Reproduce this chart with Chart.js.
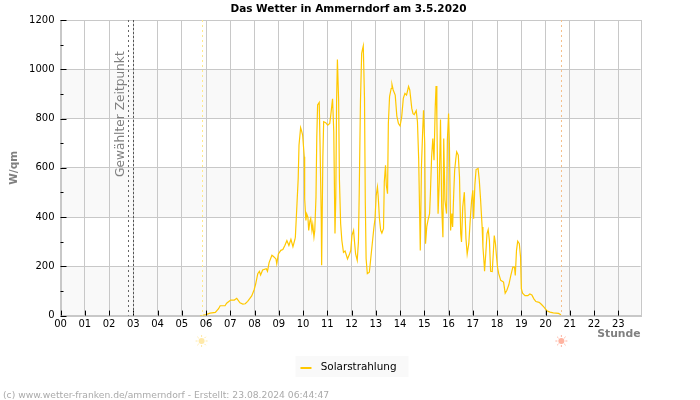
<!DOCTYPE html>
<html lang="de">
<head>
<meta charset="utf-8">
<title>Das Wetter in Ammerndorf</title>
<script src="https://cdn.jsdelivr.net/npm/chart.js@4/dist/chart.umd.min.js"></script>
<style>
	body { margin: 0; background: #fff; }
	#wrap { position: relative; width: 700px; height: 400px; overflow: hidden; }
	#footer { position: absolute; left: 3px; top: 389px; font: 9.2px "DejaVu Sans"; color: #aaa; white-space: nowrap; }
</style>
</head>
<body>
<div id="wrap">
	<canvas id="myChart" width="700" height="400"></canvas>
	<div id="footer">(c) www.wetter-franken.de/ammerndorf - Erstellt: 23.08.2024 06:44:47</div>
</div>
<script>
const chartTitle = "Das Wetter in Ammerndorf am 3.5.2020";
const seriesName = "Solarstrahlung";
const selectedLabel = "Gewählter Zeitpunkt";

// Minuten seit Mitternacht
const solarMinutes = [
	345, 352, 360, 370, 383, 391, 395, 407, 411, 421, 430, 436, 444, 451, 457, 463, 473, 479, 483, 488,
	492, 495, 500, 509, 512, 516, 523, 527, 533, 535, 539, 545, 550, 555, 560, 565, 570, 575, 580,
	581, 585, 588, 590, 594, 596, 599, 603, 604, 607, 609, 612, 614, 617, 619, 622, 624, 627, 629, 632,
	634, 636, 640, 642, 645, 646, 649, 651, 656, 661, 666, 669, 673, 676, 679, 681, 683, 685, 688, 690,
	693, 696, 700, 704, 710, 715,
	718, 721, 725, 727, 730, 734, 737, 739, 742, 745, 747, 749, 752, 754, 756, 759, 764, 767, 772, 775,
	778, 781, 784, 786, 789, 792, 795, 799, 801, 804, 806, 809, 811, 814, 818, 820, 823, 828, 832, 836,
	840, 844, 848, 852, 856, 861, 864,
	869, 872, 875, 880, 883, 886, 890, 893, 896, 898, 901, 903, 906, 909, 913, 915, 918, 921, 924, 927,
	929, 931, 934, 937, 940, 943, 946, 948, 951, 955, 957, 960, 962, 965, 968, 970, 973, 975, 978, 980,
	984, 987, 990, 992, 995, 999, 1003, 1006, 1010, 1012,
	1014, 1017, 1020, 1022, 1025, 1028, 1033, 1036, 1039, 1043, 1045, 1048, 1049, 1052, 1055, 1058, 1061,
	1064, 1068, 1071, 1073, 1076, 1078, 1081, 1084, 1089, 1096, 1100, 1104, 1109, 1114, 1119, 1123, 1125,
	1128, 1131, 1135, 1138, 1140, 1143, 1149, 1156, 1161, 1166, 1171, 1176, 1184, 1190, 1196, 1203, 1211,
	1219, 1232, 1238
];
// W/qm
const solarValues = [
	0, 1, 4, 10, 13, 28, 40, 40, 50, 63, 63, 70, 52, 47, 48, 58, 80, 105, 130, 170,
	180, 165, 185, 190, 180, 215, 245, 240, 230, 210, 250, 265, 268, 285, 305, 285, 310, 280, 310,
	319, 454, 556, 692, 763, 752, 733, 645, 475, 386, 413, 400, 346, 385, 395, 345, 370, 319, 346, 481,
	725, 855, 865, 698, 400, 204, 645, 787, 783, 773, 780, 820, 880, 746, 333, 480, 875, 1040, 875, 550,
	373, 305, 257, 262, 230, 250,
	264, 326, 346, 305, 250, 224, 300, 502, 868, 1065, 1081, 1095, 882, 461, 231, 170, 176, 224, 305, 353,
	393, 488, 522, 481, 393, 346, 335, 353, 543, 610, 529, 495, 780, 889, 922, 938, 916, 895, 810, 780,
	770, 807, 882, 902, 895, 930, 916,
	841, 820, 816, 832, 787, 638, 264, 611, 753, 834, 699, 292, 360, 387, 414, 495, 644, 719, 631, 848,
	932, 808, 414, 542, 796, 441, 318, 719, 468, 414, 712, 820, 699, 346, 414, 360, 508, 589, 638, 665,
	651, 563, 332, 299, 441, 501, 312, 250, 292, 346,
	400, 468, 509, 393, 529, 593, 597, 549, 475, 360, 278, 210, 180, 251, 332, 349, 305,
	180, 179, 265, 325, 291, 251, 197, 170, 143, 136, 91, 102, 125, 163, 197, 197, 163,
	265, 302, 292, 238, 109, 91, 81, 81, 88, 84, 68, 57, 54, 45, 34, 20, 14,
	11, 9, 3
];

const xTickMinutes = [
	0, 60, 120, 180, 240, 300, 360, 420, 480, 540, 600, 660,
	720, 780, 840, 900, 960, 1020, 1080, 1140, 1200, 1260, 1320, 1380
];
const yTicks = [0, 200, 400, 600, 800, 1000, 1200];
const yMinorTicks = [100, 300, 500, 700, 900, 1100];
const bandRanges = [[0, 200], [400, 600], [800, 1000]];
const sunriseMinute = 349;
const sunsetMinute = 1239;
const selectedMinute = 166;
const selectedEndMinute = 180;
const xMax = 1435;

const gridColor = "#c8c8c8";
const lineColor = "#ffc800";

function drawSun(ctx, x, y, color) {
	ctx.save();
	ctx.strokeStyle = color;
	ctx.fillStyle = color;
	ctx.lineWidth = 1;
	ctx.beginPath();
	ctx.arc(x, y, 3, 0, Math.PI * 2);
	ctx.fill();
	for (let i = 0; i < 8; i++) {
		const a = (i * Math.PI) / 4;
		ctx.beginPath();
		ctx.moveTo(x + Math.cos(a) * 4, y + Math.sin(a) * 4);
		ctx.lineTo(x + Math.cos(a) * 6, y + Math.sin(a) * 6);
		ctx.stroke();
	}
	ctx.restore();
}

function vLine(ctx, x, top, bottom, color, dash) {
	ctx.save();
	ctx.strokeStyle = color;
	ctx.lineWidth = 1;
	ctx.setLineDash(dash);
	ctx.beginPath();
	ctx.moveTo(Math.round(x) + 0.5, top);
	ctx.lineTo(Math.round(x) + 0.5, bottom);
	ctx.stroke();
	ctx.restore();
}

const wetterPlugin = {
	id: "wetter",
	beforeDraw(chart) {
		const { ctx, chartArea, legend } = chart;
		const y = chart.scales.y;
		ctx.save();
		ctx.fillStyle = "#f9f9f9";
		bandRanges.forEach((band) => {
			const top = y.getPixelForValue(band[1]);
			ctx.fillRect(chartArea.left, top, chartArea.width, y.getPixelForValue(band[0]) - top);
		});
		// Legendenkasten nur um den Eintrag, nicht über die ganze Breite
		const hit = legend.legendHitBoxes[0];
		ctx.fillRect(hit.left - 5, legend.bottom - 26, hit.width + 17, 21);
		ctx.restore();
	},
	afterDatasetsDraw(chart) {
		const { ctx, chartArea, legend } = chart;
		const x = chart.scales.x;
		const y = chart.scales.y;
		const bottom = chartArea.bottom;

		// Rahmen und Striche nach innen
		ctx.save();
		ctx.strokeStyle = gridColor;
		ctx.lineWidth = 1;
		ctx.strokeRect(Math.round(chartArea.left) + 0.5, Math.round(chartArea.top) + 0.5, Math.round(chartArea.width), Math.round(chartArea.height));
		ctx.strokeStyle = "#000";
		ctx.beginPath();
		xTickMinutes.forEach((m) => {
			const px = Math.round(x.getPixelForValue(m)) + 0.5;
			ctx.moveTo(px, bottom);
			ctx.lineTo(px, bottom - 5);
		});
		yTicks.forEach((v) => {
			const py = Math.round(y.getPixelForValue(v)) + 0.5;
			ctx.moveTo(chartArea.left, py);
			ctx.lineTo(chartArea.left + 6, py);
		});
		yMinorTicks.forEach((v) => {
			const py = Math.round(y.getPixelForValue(v)) + 0.5;
			ctx.moveTo(chartArea.left, py);
			ctx.lineTo(chartArea.left + 3, py);
		});
		ctx.stroke();
		ctx.restore();

		vLine(ctx, x.getPixelForValue(sunriseMinute), chartArea.top, bottom, "#ffe98c", [2, 3]);
		vLine(ctx, x.getPixelForValue(sunsetMinute), chartArea.top, bottom, "#f5c08c", [2, 3]);
		vLine(ctx, x.getPixelForValue(selectedMinute), chartArea.top, bottom, "#666", [2, 3]);
		vLine(ctx, x.getPixelForValue(selectedEndMinute), chartArea.top, bottom, "#555", [2, 2]);

		ctx.save();
		ctx.translate(x.getPixelForValue(selectedMinute) - 4, 177);
		ctx.rotate(-Math.PI / 2);
		ctx.font = '12.2px "DejaVu Sans"';
		ctx.fillStyle = "#808080";
		ctx.textBaseline = "alphabetic";
		ctx.fillText(selectedLabel, 0, 0);
		ctx.restore();

		drawSun(ctx, x.getPixelForValue(sunriseMinute), 341, "#ffe9a8");
		drawSun(ctx, x.getPixelForValue(sunsetMinute), 341, "#ffb3a0");

		// Legendenstrich: 11 px breit, Text dahinter mit größerem Abstand
		const hit = legend.legendHitBoxes[0];
		ctx.fillStyle = lineColor;
		ctx.fillRect(hit.left, legend.bottom - 15, 11, 2);
	}
};

const ctx = document.getElementById("myChart").getContext("2d");
const myChart = new Chart(ctx, {
	type: "line",
	data: {
		datasets: [
			{
				label: seriesName,
				data: solarMinutes.map((m, i) => ({ x: m, y: solarValues[i] })),
				borderColor: lineColor,
				backgroundColor: lineColor,
				borderWidth: 1.2,
				pointRadius: 0,
				tension: 0,
				fill: false,
			},
		],
	},
	options: {
		responsive: false,
		animation: false,
		layout: { padding: { top: 0, bottom: 18, left: 0, right: 3 } },
		plugins: {
			tooltip: { enabled: false },
			title: {
				display: true,
				text: chartTitle,
				color: "#000",
				font: { family: "DejaVu Sans", size: 10.5, weight: "bold" },
				padding: { top: 3, bottom: 4.4 },
			},
			legend: {
				position: "bottom",
				labels: {
					boxWidth: 15,
					boxHeight: 2,
					padding: 5,
					color: "#000",
					font: { family: "DejaVu Sans", size: 10.4 },
					generateLabels: () => [
						{ text: seriesName, fillStyle: "transparent", strokeStyle: "transparent", lineWidth: 0, datasetIndex: 0 },
					],
				},
			},
		},
		scales: {
			x: {
				type: "linear",
				min: 0,
				max: xMax,
				grid: { color: gridColor, drawTicks: false },
				border: { color: gridColor },
				title: {
					display: true,
					text: "Stunde",
					align: "end",
					color: "#808080",
					font: { family: "DejaVu Sans", size: 10.8, weight: "bold" },
					padding: { top: 0, bottom: 15.5 },
				},
				ticks: {
					maxRotation: 0,
					autoSkip: false,
					padding: 3,
					color: "#000",
					font: { family: "DejaVu Sans", size: 10 },
					callback: (v) => String(v / 60).padStart(2, "0"),
				},
				afterBuildTicks: (scale) => {
					scale.ticks = xTickMinutes.map((m) => ({ value: m }));
				},
				afterFit: (scale) => {
					scale.height = 41;
				},
			},
			y: {
				min: 0,
				max: 1200,
				grid: { color: gridColor, drawTicks: false },
				border: { color: gridColor },
				title: {
					display: true,
					text: "W/qm",
					color: "#808080",
					font: { family: "DejaVu Sans", size: 10.5, weight: "bold" },
					padding: { top: 8, bottom: 0 },
				},
				ticks: {
					stepSize: 200,
					padding: 6,
					color: "#000",
					font: { family: "DejaVu Sans", size: 10 },
					callback: (v) => String(v),
				},
				afterFit: (scale) => {
					scale.width = 60.5;
				},
			},
			// leere Achse rechts, damit Titel und Legende auf die ganze Breite zentriert bleiben
			yRight: {
				position: "right",
				grid: { display: false },
				border: { display: false },
				ticks: { display: false },
				afterFit: (scale) => {
					scale.width = 56.4;
				},
			},
		},
	},
	plugins: [wetterPlugin],
});
</script>
</body>
</html>
